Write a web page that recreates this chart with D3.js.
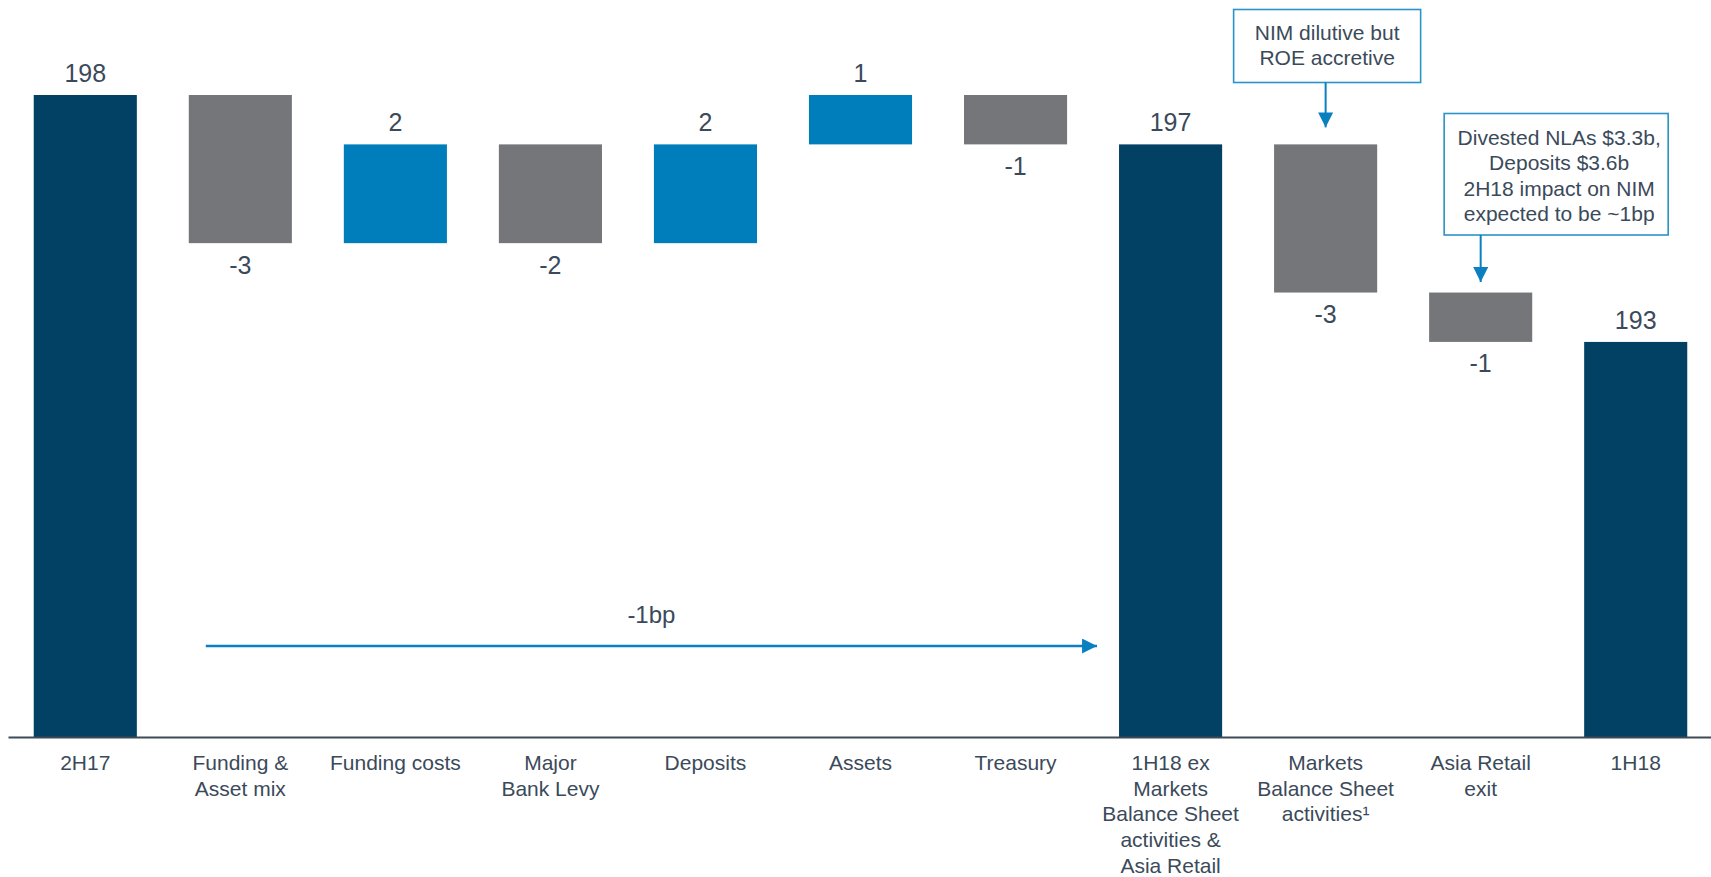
<!DOCTYPE html>
<html>
<head>
<meta charset="utf-8">
<script src="https://cdn.jsdelivr.net/npm/d3@7"></script>
<style>
  html, body { margin: 0; padding: 0; background: #ffffff; }
  svg { display: block; font-family: "Liberation Sans", Arial, sans-serif; }
</style>
</head>
<body>
<svg id="chart" width="1711" height="877"></svg>
<script>
// ---- Data ----
const categories = [
  "2H17",
  "Funding &\nAsset mix",
  "Funding costs",
  "Major\nBank Levy",
  "Deposits",
  "Assets",
  "Treasury",
  "1H18 ex\nMarkets\nBalance Sheet\nactivities &\nAsia Retail",
  "Markets\nBalance Sheet\nactivities\u00B9",
  "Asia Retail\nexit",
  "1H18"
];
const values = [198, -3, 2, -2, 2, 1, -1, 197, -3, -1, 193];
const kinds = ["total", "delta", "delta", "delta", "delta", "delta", "delta", "total", "delta", "delta", "total"];
const valueLabels = ["198", "-3", "2", "-2", "2", "1", "-1", "197", "-3", "-1", "193"];
const axisBase = 185;   // truncated axis baseline value
const axisTop = 198;

const noteTexts = [
  ["NIM dilutive but", "ROE accretive"],
  ["Divested NLAs $3.3b,", "Deposits $3.6b", "2H18 impact on NIM", "expected to be ~1bp"]
];
const noteTargets = [8, 9];
const bridgeText = "-1bp";
const bridgeFrom = 1, bridgeTo = 7;

// ---- Styles ----
const C_TOTAL = "#024064", C_UP = "#007DBB", C_DOWN = "#757679";
const C_TEXT = "#3b4a5a", C_AXIS = "#3d4a57", C_NOTE = "#2b93c9", C_ARROW = "#0a80c0";

// ---- Build waterfall segments ----
let running = 0;
const bars = values.map((v, i) => {
  let y0, y1, color;
  if (kinds[i] === "total") {
    y0 = axisBase; y1 = v; running = v; color = C_TOTAL;
  } else {
    y0 = running; y1 = running + v; running = y1; color = v >= 0 ? C_UP : C_DOWN;
  }
  return { cat: categories[i], kind: kinds[i], v, y0, y1, color, label: valueLabels[i] };
});

const svg = d3.select("#chart");
const x = d3.scaleBand().domain(categories).range([8, 1713]).paddingInner(0.335).paddingOuter(0.166);
const y = d3.scaleLinear().domain([axisBase, axisTop]).range([737, 95]);

// bars
svg.append("g").selectAll("rect").data(bars).join("rect")
  .attr("x", d => x(d.cat))
  .attr("width", x.bandwidth())
  .attr("y", d => y(Math.max(d.y0, d.y1)))
  .attr("height", d => Math.abs(y(d.y0) - y(d.y1)))
  .attr("fill", d => d.color);

// value labels
svg.append("g").selectAll("text").data(bars).join("text")
  .attr("x", d => x(d.cat) + x.bandwidth() / 2)
  .attr("y", d => (d.kind === "delta" && d.v < 0) ? y(Math.min(d.y0, d.y1)) + 30.5 : y(Math.max(d.y0, d.y1)) - 13)
  .attr("text-anchor", "middle")
  .attr("font-size", 25)
  .attr("fill", C_TEXT)
  .text(d => d.label);

// axis
const axis = d3.axisBottom(x).tickSize(0).tickFormat("");
const gAxis = svg.append("g").attr("transform", `translate(0,${y(axisBase)})`).call(axis);
gAxis.select(".domain").attr("stroke", C_AXIS).attr("stroke-width", 2.2);

// category labels (multi-line)
const catG = svg.append("g");
categories.forEach(c => {
  const t = catG.append("text")
    .attr("x", x(c) + x.bandwidth() / 2)
    .attr("y", y(axisBase) + 33)
    .attr("text-anchor", "middle")
    .attr("font-size", 21)
    .attr("fill", C_TEXT);
  c.split("\n").forEach((line, k) => {
    t.append("tspan").attr("x", x(c) + x.bandwidth() / 2).attr("dy", k === 0 ? 0 : 25.7).text(line);
  });
});

// arrow marker
const defs = svg.append("defs");
defs.append("marker").attr("id", "tri")
  .attr("viewBox", "0 0 10 10").attr("refX", 10).attr("refY", 5)
  .attr("markerUnits", "userSpaceOnUse").attr("markerWidth", 15).attr("markerHeight", 15)
  .attr("orient", "auto")
  .append("path").attr("d", "M0,0 L10,5 L0,10 Z").attr("fill", C_ARROW);

// bridge arrow -1bp
const bridgeY = y(axisBase) - 91;
const bx0 = x(categories[bridgeFrom]) + 17;
const bx1 = x(categories[bridgeTo]) - 22;
svg.append("line")
  .attr("x1", bx0).attr("x2", bx1).attr("y1", bridgeY).attr("y2", bridgeY)
  .attr("stroke", C_ARROW).attr("stroke-width", 2.5).attr("marker-end", "url(#tri)");
svg.append("text")
  .attr("x", (bx0 + bx1) / 2).attr("y", bridgeY - 23)
  .attr("text-anchor", "middle").attr("font-size", 24).attr("fill", C_TEXT)
  .text(bridgeText);

// annotation boxes
const boxSpecs = [
  { left: -92, width: 187, top: 9.5, bottom: 82.5, firstBase: 40, step: 25, tipGap: 17, shift: 0 },
  { left: -36.5, width: 224, top: 113.5, bottom: 235, firstBase: 145, step: 25.4, tipGap: 10.5, shift: 3 }
];
noteTexts.forEach((lines, i) => {
  const b = bars[noteTargets[i]];
  const cx = x(b.cat) + x.bandwidth() / 2;
  const s = boxSpecs[i];
  svg.append("rect")
    .attr("x", cx + s.left).attr("y", s.top)
    .attr("width", s.width).attr("height", s.bottom - s.top)
    .attr("fill", "#ffffff").attr("stroke", C_NOTE).attr("stroke-width", 1.6);
  const t = svg.append("text").attr("text-anchor", "middle").attr("font-size", 21).attr("fill", C_TEXT);
  lines.forEach((ln, k) => {
    t.append("tspan").attr("x", cx + s.left + s.width / 2 + s.shift).attr("y", s.firstBase + k * s.step).text(ln);
  });
  svg.append("line")
    .attr("x1", cx).attr("x2", cx)
    .attr("y1", s.bottom).attr("y2", y(Math.max(b.y0, b.y1)) - s.tipGap)
    .attr("stroke", C_ARROW).attr("stroke-width", 2).attr("marker-end", "url(#tri)");
});
</script>
</body>
</html>
